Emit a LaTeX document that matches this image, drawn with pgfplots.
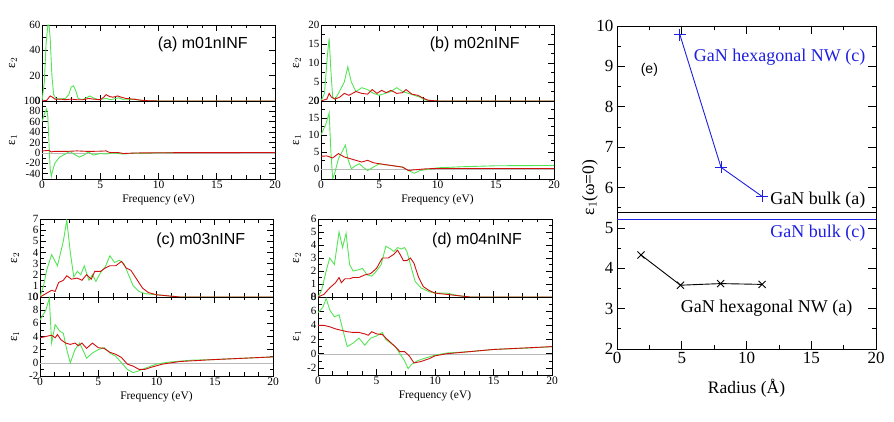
\documentclass[border=0pt]{standalone}
\usepackage{fontspec}
\setmainfont{Liberation Serif}
\newfontfamily\sanslab{Liberation Sans}
\usepackage{pgfplots}
\pgfplotsset{compat=1.18}

\definecolor{gr}{rgb}{0.33,0.90,0.33}
\definecolor{rd}{rgb}{0.82,0.06,0.06}
\definecolor{bl}{rgb}{0.12,0.12,0.88}

\tikzset{plab/.style={font=\sanslab\fontsize{16}{16}\selectfont}}
\pgfplotsset{
 small/.style={scale only axis, anchor=south west, width=233pt, xmin=0, xmax=20,
   xtick={0,5,10,15,20}, minor x tick num=3, minor y tick num=1,
   tick align=inside, major tick length=6pt, minor tick length=3.5pt,
   every tick/.style={black, line width=0.6pt}, axis line style={line width=0.8pt},
   ticklabel style={font=\fontsize{11.5}{11.5}\selectfont, inner sep=1.5pt},
   yticklabel style={font=\fontsize{11}{11}\selectfont, inner ysep=0pt},
   /pgf/number format/assume math mode=true, clip=true,
   ylabel style={font=\fontsize{13}{13}\selectfont, anchor=center}},
 up/.style={xticklabels={}, height=76pt},
 lo/.style={height=78pt, xlabel={Frequency (eV)},
   xlabel style={font=\fontsize{11.5}{11.5}\selectfont, at={(axis description cs:0.5,0)}, anchor=center, yshift=-21pt}},
 gline/.style={gr, line width=0.9pt},
 rline/.style={rd, line width=0.9pt},
 zline/.style={gray!55, line width=0.4pt},
}

\begin{document}
\begin{tikzpicture}
\useasboundingbox (0pt,0pt) rectangle (894pt,422pt);

% ================= (a) =================
\begin{axis}[small, up, at={(42pt,321pt)}, ymin=0, ymax=60, ytick={0,20,40,60},
  ylabel={ε$_2$}, ylabel style={at={(axis description cs:-0.125,0.5)}}]
\addplot[gline] coordinates {(0,0) (0.2,15) (0.35,45) (0.5,60) (0.6,60) (0.7,50) (0.85,20) (1.0,5) (1.2,2) (1.5,1.5) (2.0,2) (2.3,5) (2.5,11) (2.7,12) (2.9,8) (3.1,2) (3.5,1) (3.9,3) (4.1,4) (4.4,2.5) (4.8,1) (5.2,1.5) (5.5,2) (5.9,1) (6.3,2) (6.6,2.5) (7.0,1) (7.5,1) (8.0,1.5) (8.4,0.5) (9,0.2) (10,0) (20,0)};
\addplot[rline] coordinates {(0,0) (0.4,0.5) (0.7,4) (0.9,3) (1.1,1.5) (1.6,1.5) (2.0,1) (2.5,1.5) (3.0,1) (3.5,1) (4.0,2) (4.4,1.5) (5.0,1) (5.3,3) (5.5,5) (5.8,3.5) (6.1,3) (6.5,4) (6.8,3) (7.2,2) (7.8,1.5) (8.2,1) (8.8,0.3) (10,0) (20,0)};
\node[plab] at (axis description cs:0.69,0.74) {(a) m01nINF};
\end{axis}
\begin{axis}[small, lo, at={(42pt,243pt)}, ymin=-50, ymax=100, ytick={-40,-20,0,20,40,60,80,100},
  ylabel={ε$_1$}, ylabel style={at={(axis description cs:-0.125,0.5)}}]
\addplot[zline] coordinates {(0,0) (20,0)};
\addplot[gline] coordinates {(0,60) (0.2,75) (0.4,85) (0.5,70) (0.6,20) (0.7,-30) (0.8,-45) (0.9,-35) (1.1,-20) (1.5,-8) (2.0,-2) (2.4,3) (2.8,-3) (3.2,-8) (3.6,-4) (4.0,2) (4.4,-4) (5.0,-1) (5.5,-2) (6,0) (7,-2) (8,0) (8.5,-1) (10,0.5) (15,1) (20,1)};
\addplot[rline] coordinates {(0,4) (0.6,5) (0.8,2) (1.0,3) (2,3) (3,4) (4,3) (5,3.5) (5.5,4) (5.8,1) (6.5,1) (7,-1) (8,0) (10,0.5) (20,1)};
\end{axis}

% ================= (b) =================
\begin{axis}[small, up, at={(321pt,321pt)}, ymin=0, ymax=20, ytick={0,5,10,15,20},
  ylabel={ε$_2$}, ylabel style={at={(axis description cs:-0.103,0.5)}}]
\addplot[gline] coordinates {(0,0) (0.3,2) (0.55,12) (0.7,16.5) (0.85,8) (1.0,1) (1.2,0.5) (1.5,2) (2.0,5) (2.3,9) (2.6,5) (3.0,2.5) (3.5,3.5) (4.0,3) (4.5,2) (5.0,1.5) (5.5,2) (6.0,2.5) (6.5,3.5) (7.0,2.5) (7.5,2) (8,1.5) (8.5,1) (9,0.2) (10,0) (20,0)};
\addplot[rline] coordinates {(0,0) (0.5,0.5) (0.7,2) (0.9,1) (1.2,0.5) (1.6,1) (2.0,2) (2.4,1.5) (3.0,2.5) (3.5,2) (4.0,1.8) (4.4,3) (4.8,2) (5.2,2.8) (5.6,2.2) (6.0,2.8) (6.5,2) (7.0,2.2) (7.3,3) (7.8,1.8) (8.3,1.5) (8.8,0.7) (9.2,0.2) (10,0) (20,0)};
\node[plab] at (axis description cs:0.66,0.74) {(b) m02nINF};
\end{axis}
\begin{axis}[small, lo, at={(321pt,243pt)}, ymin=-3, ymax=20, ytick={0,5,10,15,20},
  ylabel={ε$_1$}, ylabel style={at={(axis description cs:-0.103,0.5)}}]
\addplot[zline] coordinates {(0,0) (20,0)};
\addplot[gline] coordinates {(0,10) (0.4,13) (0.7,16.5) (0.85,5) (1.0,-3) (1.2,-1) (1.5,3) (1.8,5) (2.1,7) (2.3,3) (2.6,0) (3.0,1) (3.3,1.5) (3.6,0.5) (4.0,-0.5) (4.5,0.5) (5.0,1.5) (5.5,1.2) (6.0,1) (7.0,0.5) (7.5,-0.5) (8.0,-1.3) (8.5,-0.5) (9.5,0) (10,0.3) (12,0.6) (15,0.9) (20,1.0)};
\addplot[rline] coordinates {(0,3.7) (0.5,3.8) (1.0,3.2) (1.5,4.5) (2.0,3.5) (2.5,3) (3.0,2.5) (3.5,2) (4.0,2.5) (4.5,1.8) (5,1.5) (6,1) (7,0.5) (7.5,-0.5) (8,-0.3) (9,0) (10,0.1) (20,0.1)};
\end{axis}

% ================= (c) =================
\begin{axis}[small, up, at={(40pt,125pt)}, height=78pt, ymin=0, ymax=7, ytick={0,1,...,7},
  ylabel={ε$_2$}, ylabel style={at={(axis description cs:-0.107,0.5)}}]
\addplot[gline] coordinates {(0,0) (0.3,1) (0.6,2.5) (1.0,3.8) (1.5,2.8) (2.0,5) (2.3,6.9) (2.6,4) (2.9,1.8) (3.2,2.3) (3.5,2) (3.8,2.8) (4.2,1.5) (4.5,2) (4.8,1.4) (5.2,2.2) (5.6,2.7) (6.0,3.7) (6.4,3.1) (6.8,3.3) (7.2,3) (7.6,2) (8.0,1) (8.5,0.5) (9,0.3) (10,0.2) (11,0.1) (12,0) (20,0)};
\addplot[rline] coordinates {(0,0) (0.5,0.3) (1.0,0.6) (1.3,0.5) (1.6,1.3) (2.0,1.5) (2.3,1.9) (2.7,1.6) (3.2,1.7) (3.6,1.5) (4.0,2) (4.4,1.6) (4.7,2.3) (5.2,2.3) (5.6,2.6) (6.0,2.8) (6.5,2.8) (7.0,3.2) (7.4,2.6) (7.8,2.4) (8.3,1.6) (8.8,0.8) (9.3,0.4) (10,0.2) (11,0.1) (12,0) (20,0)};
\node[plab] at (axis description cs:0.69,0.72) {(c) m03nINF};
\end{axis}
\begin{axis}[small, lo, at={(40pt,46pt)}, height=79pt, ymin=-2, ymax=10, ytick={-2,0,...,10},
  ylabel={ε$_1$}, ylabel style={at={(axis description cs:-0.107,0.5)}}]
\addplot[zline] coordinates {(0,0) (20,0)};
\addplot[gline] coordinates {(0,6.5) (0.5,8) (0.8,9.8) (1.0,3) (1.3,5.8) (1.7,4.8) (2.0,4.5) (2.3,2) (2.6,0) (3.0,2) (3.4,3) (3.8,1.5) (4.0,0.7) (4.5,1.5) (5.0,2) (5.5,2.3) (6.0,1.5) (6.5,1) (7.0,0) (7.5,-1) (8.0,-1.5) (8.5,-1.2) (9.5,-0.5) (10,-0.2) (11,0.1) (13,0.4) (15,0.5) (20,0.9)};
\addplot[rline] coordinates {(0,3.8) (0.5,4) (1.0,4.2) (1.3,3.8) (1.5,4.3) (1.8,3.5) (2.2,3) (2.6,2.8) (3.0,3) (3.3,2.6) (3.6,3) (4.0,2.2) (4.5,3) (5.0,2.3) (5.5,2.2) (6.0,1.6) (6.5,1.3) (7.0,0.8) (7.5,-0.2) (8.0,-0.5) (8.5,-1) (9.0,-1) (9.5,-0.7) (10.5,-0.2) (12,0.2) (15,0.5) (20,0.9)};
\end{axis}

% ================= (d) =================
\begin{axis}[small, up, at={(318pt,125pt)}, width=234pt, height=78pt, ymin=0, ymax=6, ytick={0,1,...,6},
  ylabel={ε$_2$}, ylabel style={at={(axis description cs:-0.09,0.5)}}]
\addplot[gline] coordinates {(0,0) (0.3,0.5) (0.7,2) (1.0,3) (1.4,2.5) (1.8,5) (2.1,3.8) (2.4,4.9) (2.7,2.5) (3.0,2) (3.5,2.1) (3.8,2.2) (4.2,1.7) (4.6,1.6) (5.0,2) (5.4,2.5) (5.8,3.9) (6.2,3.7) (6.5,3.5) (6.8,3.8) (7.1,3.7) (7.4,3.8) (7.6,3.5) (7.9,2.5) (8.3,1.2) (8.8,0.7) (9.5,0.4) (10,0.3) (11,0.3) (11.5,0.2) (12,0.1) (13,0) (20,0)};
\addplot[rline] coordinates {(0,0) (0.5,0.2) (1.0,0.7) (1.5,1.1) (1.8,1.5) (2.0,1.1) (2.3,1.4) (2.7,1.4) (3.0,1.5) (3.5,1.5) (4.0,1.7) (4.5,1.8) (5.0,2.2) (5.5,3) (6.0,3) (6.5,3.3) (6.8,3.6) (7.0,3.3) (7.3,2.8) (7.6,2.8) (7.9,3) (8.2,2.6) (8.6,1.5) (9.0,0.8) (9.5,0.5) (10,0.3) (11,0.2) (12,0.1) (13,0) (20,0)};
\node[plab] at (axis description cs:0.68,0.73) {(d) m04nINF};
\end{axis}
\begin{axis}[small, lo, at={(318pt,47pt)}, width=234pt, ymin=-3, ymax=8, ytick={-2,0,...,8},
  ylabel={ε$_1$}, ylabel style={at={(axis description cs:-0.09,0.5)}}]
\addplot[zline] coordinates {(0,0) (20,0)};
\addplot[gline] coordinates {(0,5.8) (0.4,6.5) (0.7,7.8) (1.0,6.2) (1.4,5.2) (1.8,5.5) (2.1,3.5) (2.5,1) (3.0,1.5) (3.5,2.2) (4.0,1.2) (4.5,2.2) (5.0,2.5) (5.5,3) (5.8,2) (6.2,1.5) (6.6,1) (7.0,0) (7.4,-1) (7.7,-2.1) (8.0,-1.5) (8.5,-1) (9,-0.7) (10,-0.2) (11,0.1) (13,0.3) (15,0.6) (18,0.8) (20,1.0)};
\addplot[rline] coordinates {(0,4.0) (0.5,4) (1.0,3.8) (1.5,3.5) (2.0,3.3) (2.5,3.1) (3,3) (3.5,3) (4,2.8) (4.3,2.6) (4.6,3.1) (5,2.8) (5.5,2.7) (5.8,2.2) (6.2,1.6) (6.6,1) (7.0,0.3) (7.4,0.3) (7.8,-0.3) (8.2,-1.3) (8.8,-1.1) (9.5,-0.7) (10,-0.3) (11,0) (13,0.3) (15,0.6) (20,1.0)};
\end{axis}

% ================= (e) =================
\begin{axis}[scale only axis, anchor=south west, at={(617pt,73pt)}, width=259pt, height=323pt,
  xmin=0, xmax=20, ymin=2, ymax=10, xtick={0,5,...,20}, ytick={2,3,...,10},
  minor x tick num=1, minor y tick num=1, tick align=inside,
  major tick length=8pt, minor tick length=4pt,
  every tick/.style={black, line width=0.7pt}, axis line style={line width=0.8pt},
  ticklabel style={font=\fontsize{17}{17}\selectfont},
  /pgf/number format/assume math mode=true,
  xlabel={Radius (Å)}, ylabel={ε$_1$(ω=0)},
  label style={font=\fontsize{17.5}{17.5}\selectfont},
  xlabel style={at={(axis description cs:0.5,0)}, anchor=center, yshift=-39pt},
  ylabel style={at={(axis description cs:-0.105,0.5)}, anchor=center},
  clip=false]
\addplot[black, line width=0.8pt] coordinates {(0,5.38) (20,5.38)};
\addplot[bl, line width=0.8pt] coordinates {(0,5.2) (20,5.2)};
\addplot[bl, line width=0.9pt, mark=+, mark size=6pt, mark options={line width=0.9pt}] coordinates {(4.86,9.78) (8.03,6.5) (11.2,5.78)};
\addplot[black, line width=0.9pt, mark=x, mark size=5pt, mark options={line width=0.9pt}] coordinates {(1.85,4.33) (4.9,3.58) (8.0,3.62) (11.2,3.6)};
\node[bl, anchor=east, font=\fontsize{18}{18}\selectfont] at (axis cs:19.45,9.23) {GaN hexagonal NW (c)};
\node[font=\sanslab\fontsize{14}{14}\selectfont] at (axis cs:2.5,8.91) {(e)};
\node[anchor=east, font=\fontsize{18}{18}\selectfont] at (axis cs:19.45,5.69) {GaN bulk (a)};
\node[bl, anchor=east, font=\fontsize{18}{18}\selectfont] at (axis cs:19.45,4.88) {GaN bulk (c)};
\node[font=\fontsize{18}{18}\selectfont] at (axis cs:11.55,3.0) {GaN hexagonal NW (a)};
\end{axis}
\end{tikzpicture}
\end{document}
